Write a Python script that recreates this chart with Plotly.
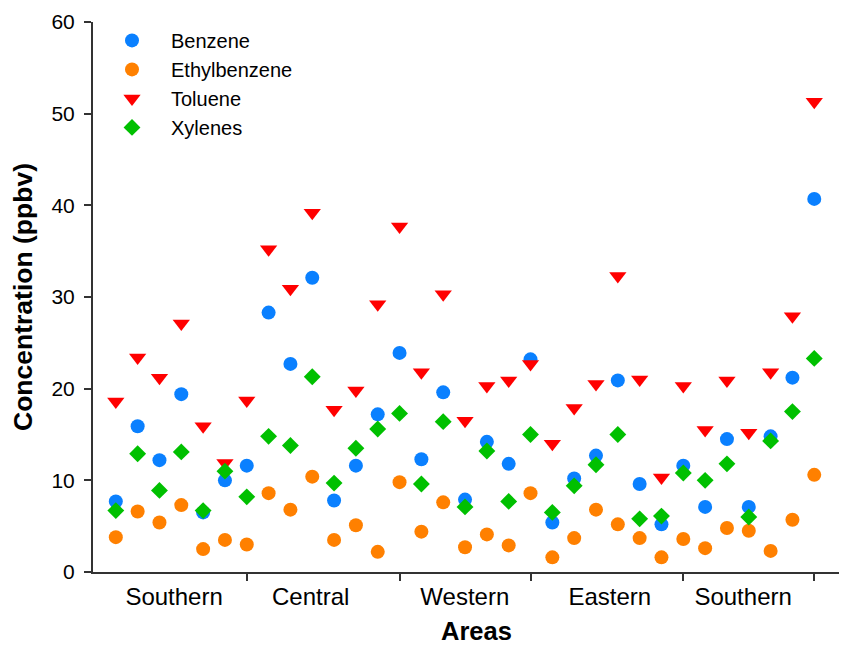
import plotly.graph_objects as go

# Sample index along the x axis (33 sites, grouped by area)
site_index = list(range(33))

benzene = [7.7, 15.9, 12.2, 19.4, 6.5, 10.0, 11.6,
           28.3, 22.7, 32.1, 7.8, 11.6, 17.2, 23.9,
           12.3, 19.6, 7.9, 14.2, 11.8, 23.2,
           5.4, 10.2, 12.7, 20.9, 9.6, 5.2, 11.6,
           7.1, 14.5, 7.1, 14.8, 21.2, 40.7]
ethylbenzene = [3.8, 6.6, 5.4, 7.3, 2.5, 3.5, 3.0,
                8.6, 6.8, 10.4, 3.5, 5.1, 2.2, 9.8,
                4.4, 7.6, 2.7, 4.1, 2.9, 8.6,
                1.6, 3.7, 6.8, 5.2, 3.7, 1.6, 3.6,
                2.6, 4.8, 4.5, 2.3, 5.7, 10.6]
toluene = [18.6, 23.4, 21.2, 27.1, 15.9, 11.9, 18.7,
           35.2, 30.9, 39.2, 17.7, 19.8, 29.2, 37.7,
           21.8, 30.3, 16.5, 20.3, 20.9, 22.7,
           14.0, 17.9, 20.5, 32.3, 21.0, 10.3, 20.3,
           15.5, 20.9, 15.2, 21.8, 27.9, 51.3]
xylenes = [6.7, 12.9, 8.9, 13.1, 6.7, 11.0, 8.2,
           14.8, 13.8, 21.3, 9.7, 13.5, 15.6, 17.3,
           9.6, 16.4, 7.1, 13.2, 7.7, 15.0,
           6.5, 9.4, 11.7, 15.0, 5.8, 6.1, 10.8,
           10.0, 11.8, 6.0, 14.3, 17.5, 23.3]

area_labels = ["Southern", "Central", "Western", "Eastern", "Southern"]
area_label_pos = [2.67, 8.93, 15.99, 22.63, 28.74]
area_boundaries = [6, 13, 19, 26, 32]

FONT = "Liberation Sans, Arial, sans-serif"

series = [
    ("Benzene", benzene, "circle", "#0A80FF", 14),
    ("Ethylbenzene", ethylbenzene, "circle", "#FF8000", 14),
    ("Toluene", toluene, "triangle-down", "#FF0000", 15),
    ("Xylenes", xylenes, "diamond", "#00C000", 13),
]

fig = go.Figure()
for name, vals, sym, col, sz in series:
    fig.add_trace(go.Scatter(
        x=site_index, y=vals, mode="markers", name=name,
        marker=dict(symbol=sym, color=col, size=sz, line=dict(width=0)),
    ))

# page body has an 8px default margin, so the figure is sized to fit the window
fig.update_layout(
    width=839, height=638,
    margin=dict(l=85, r=0, t=14, b=74),
    paper_bgcolor="white", plot_bgcolor="white",
    font=dict(family=FONT, color="black"),
    showlegend=True,
    legend=dict(
        x=0.0, y=1.002, xanchor="left", yanchor="top",
        font=dict(size=20, family=FONT),
        itemwidth=68, bgcolor="rgba(0,0,0,0)", tracegroupgap=0,
    ),
    xaxis=dict(
        range=[-1.045, 33.5], showgrid=False, zeroline=False,
        showline=True, linecolor="#333333", linewidth=2,
        tickmode="array", tickvals=area_label_pos, ticktext=area_labels,
        ticks="", tickfont=dict(size=24, family=FONT),
        ticklabelstandoff=2,
        minor=dict(tickmode="array", tickvals=area_boundaries,
                   ticks="outside", ticklen=7, tickwidth=2,
                   tickcolor="#333333", showgrid=False),
    ),
    yaxis=dict(
        range=[0, 60], showgrid=False, zeroline=False,
        showline=True, linecolor="#333333", linewidth=2,
        tickmode="array", tickvals=[0, 10, 20, 30, 40, 50, 60],
        ticks="outside", ticklen=7, tickwidth=2, tickcolor="#333333",
        tickfont=dict(size=21, family=FONT), ticklabelstandoff=5,
        title=dict(text="<b>Concentration (ppbv)</b>",
                   font=dict(size=26.5, family=FONT), standoff=17),
    ),
    annotations=[dict(
        text="<b>Areas</b>", xref="paper", yref="paper",
        x=0.5086, y=-0.1073, xanchor="center", yanchor="middle",
        showarrow=False, font=dict(size=25.5, family=FONT),
    )],
)

fig.write_html("out.html")
